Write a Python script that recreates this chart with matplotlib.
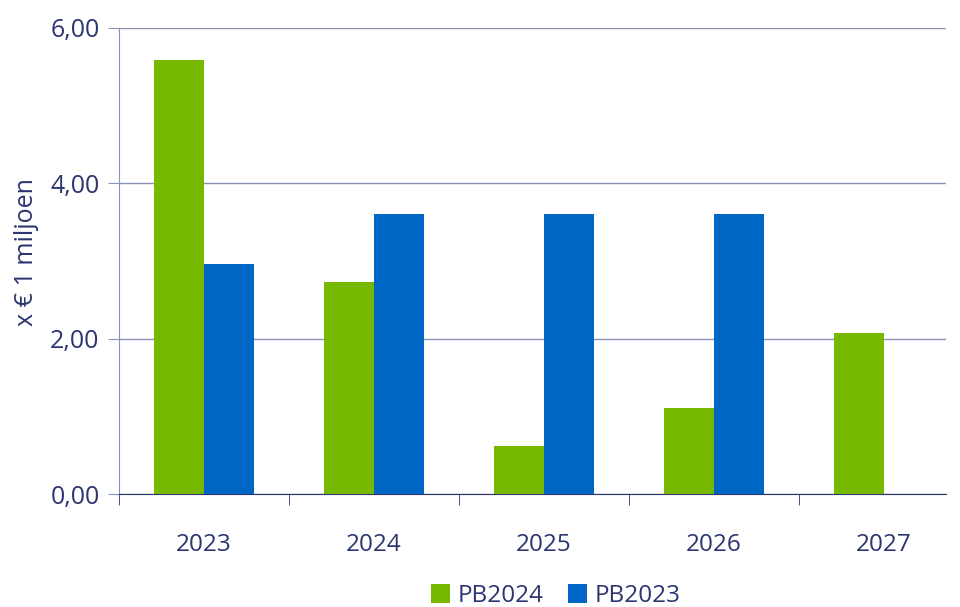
import matplotlib.pyplot as plt
import numpy as np
from matplotlib.ticker import FuncFormatter

years = ['2023', '2024', '2025', '2026', '2027']
pb2024 = [5.59, 2.73, 0.62, 1.11, 2.07]
pb2023 = [2.96, 3.61, 3.61, 3.61, np.nan]

GREEN = '#77b800'
BLUE = '#0066c6'
NAVY = '#2b3570'
GRID = '#8a91b8'

plt.rcParams['font.family'] = ['Open Sans', 'DejaVu Sans']

fig = plt.figure(figsize=(9.6, 6.07), dpi=100)
ax = fig.add_axes([0.124, 0.186, 0.861, 0.768])

x = np.arange(len(years))
w = 0.294
ax.bar(x - w / 2, pb2024, w, color=GREEN, label='PB2024', zorder=3)
ax.bar(x + w / 2, pb2023, w, color=BLUE, label='PB2023', zorder=3)

# plot area is cut off at the right, last category is not complete
ax.set_xlim(-0.5, 4.365)
ax.set_ylim(0, 6)
ax.set_yticks([0, 2, 4, 6])
ax.yaxis.set_major_formatter(FuncFormatter(lambda v, p: f'{v:.2f}'.replace('.', ',')))
ax.grid(axis='y', color=GRID, linewidth=1, zorder=0)

ax.set_xticks(x)
ax.set_xticklabels(years)
ax.set_xticks(np.arange(-0.5, len(years) - 1), minor=True)
ax.tick_params(axis='x', which='major', length=0, pad=28, labelsize=17.5, labelcolor=NAVY)
ax.tick_params(axis='x', which='minor', length=8, color=NAVY, direction='out')
ax.tick_params(axis='y', length=8, color=GRID, labelsize=18, labelcolor=NAVY, pad=6)

for s in ['top', 'right']:
    ax.spines[s].set_visible(False)
ax.spines['left'].set_color(GRID)
ax.spines['bottom'].set_color(NAVY)

ax.set_ylabel('x € 1 miljoen', color=NAVY, fontsize=18)
ax.yaxis.set_label_coords(-0.097, 0.52)

ax.legend(loc='center', bbox_to_anchor=(0.528, -0.218), ncol=2, frameon=False,
          fontsize=17.5, labelcolor=NAVY, handlelength=0.8, handleheight=0.8,
          handletextpad=0.3, columnspacing=1.0)

fig.savefig('out.png', dpi=100)
